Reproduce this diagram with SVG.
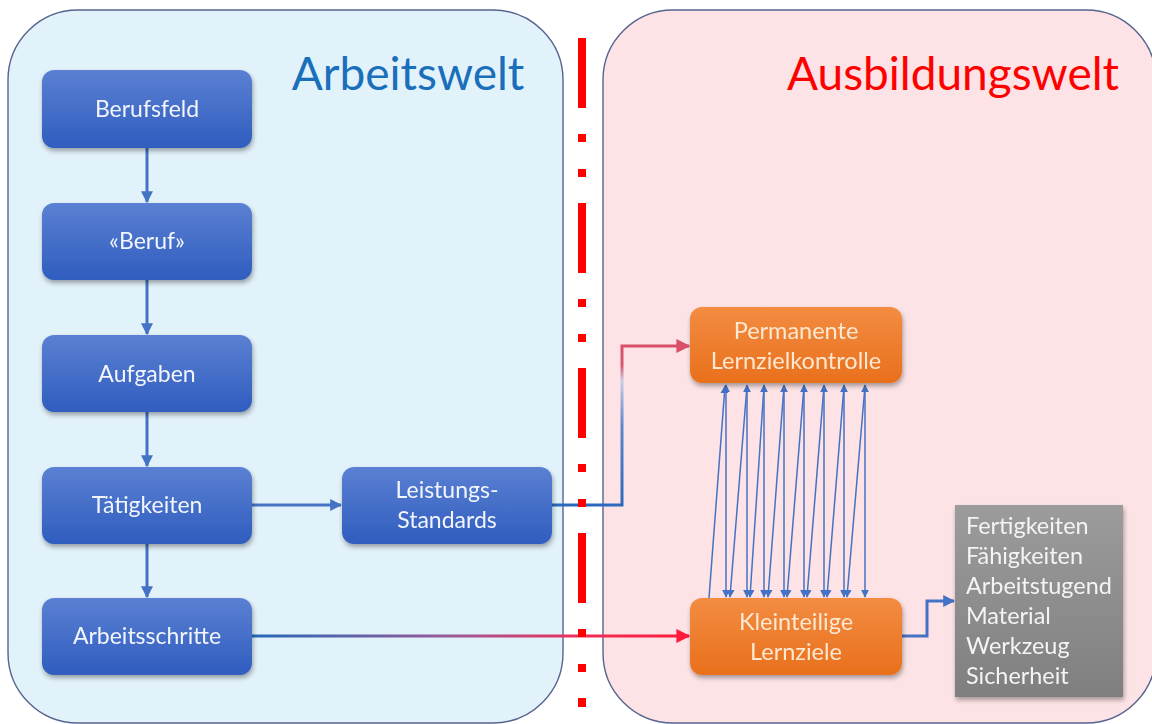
<svg xmlns="http://www.w3.org/2000/svg" width="1152" height="724" viewBox="0 0 1152 724">
<style>
.panel{stroke:#56648f;stroke-width:1.4}
.bt{font-family:Lato,"Open Sans","DejaVu Sans",sans-serif;font-size:23px;fill:#f2f5fc;text-anchor:middle}
.ot{font-family:Lato,"Open Sans","DejaVu Sans",sans-serif;font-size:23.5px;fill:#fde8d2;text-anchor:middle}
.gt{font-family:Lato,"Open Sans","DejaVu Sans",sans-serif;font-size:23.4px;fill:#f4f4f4}
.title{font-family:Lato,"Open Sans","DejaVu Sans",sans-serif;font-size:46px}
.conn{fill:none;stroke:#4472c4;stroke-width:3}
.thin{fill:none;stroke:#4472c4;stroke-width:1.5}
</style>
<defs>
<linearGradient id="gBlue" x1="0" y1="0" x2="0" y2="1"><stop offset="0" stop-color="#5b80d2"/><stop offset="1" stop-color="#2f5dbf"/></linearGradient>
<linearGradient id="gOrange" x1="0" y1="0" x2="0" y2="1"><stop offset="0" stop-color="#f38c42"/><stop offset="1" stop-color="#e9701c"/></linearGradient>
<linearGradient id="gGray" x1="0" y1="0" x2="0" y2="1"><stop offset="0" stop-color="#9c9c9c"/><stop offset="1" stop-color="#7f7f7f"/></linearGradient>
<linearGradient id="gLeist" gradientUnits="userSpaceOnUse" x1="0" y1="505" x2="0" y2="346"><stop offset="0" stop-color="#2a69bd"/><stop offset="0.5" stop-color="#5f86cc"/><stop offset="0.78" stop-color="#c9cde6"/><stop offset="0.88" stop-color="#d9566f"/><stop offset="1" stop-color="#d9506a"/></linearGradient>
<linearGradient id="gArb" gradientUnits="userSpaceOnUse" x1="252" y1="0" x2="690" y2="0"><stop offset="0" stop-color="#2468b8"/><stop offset="0.45" stop-color="#9a5a98"/><stop offset="0.75" stop-color="#ee2f58"/><stop offset="1" stop-color="#ff1a3a"/></linearGradient>
<marker id="aBlue" viewBox="0 0 10 10" refX="9" refY="5" markerWidth="12" markerHeight="12" markerUnits="userSpaceOnUse" orient="auto"><path d="M0,0 L10,5 L0,10 z" fill="#4472c4"/></marker>
<marker id="aSmall" viewBox="0 0 10 10" refX="9" refY="5" markerWidth="8" markerHeight="8" markerUnits="userSpaceOnUse" orient="auto-start-reverse"><path d="M0,0 L10,5 L0,10 z" fill="#4472c4"/></marker>
<marker id="aRed" viewBox="0 0 10 10" refX="9" refY="5" markerWidth="14" markerHeight="14" markerUnits="userSpaceOnUse" orient="auto"><path d="M0,0 L10,5 L0,10 z" fill="#ff1a3a"/></marker>
<marker id="aPink" viewBox="0 0 10 10" refX="9" refY="5" markerWidth="14" markerHeight="14" markerUnits="userSpaceOnUse" orient="auto"><path d="M0,0 L10,5 L0,10 z" fill="#d9506a"/></marker>
<filter id="sh" x="-10%" y="-10%" width="125%" height="135%"><feGaussianBlur in="SourceAlpha" stdDeviation="2.5"/><feOffset dx="1" dy="3" result="b"/><feComponentTransfer><feFuncA type="linear" slope="0.35"/></feComponentTransfer><feMerge><feMergeNode/><feMergeNode in="SourceGraphic"/></feMerge></filter>
</defs>
<rect width="1152" height="724" fill="#ffffff"/>
<g id="panel-arbeitswelt">
<rect class="panel" x="8" y="10" width="555" height="713" rx="70" fill="#e2f2fa"/>
<text class="title" x="408" y="90" fill="#1a6fba" text-anchor="middle">Arbeitswelt</text>
</g>
<g id="panel-ausbildungswelt">
<rect class="panel" x="603" y="10" width="553" height="713" rx="70" fill="#fde3e6"/>
<text class="title" x="953" y="90" fill="#ff0000" text-anchor="middle">Ausbildungswelt</text>
</g>
<g id="connectors">
<line class="conn" x1="147" y1="148" x2="147" y2="202" marker-end="url(#aBlue)"/>
<line class="conn" x1="147" y1="280" x2="147" y2="334" marker-end="url(#aBlue)"/>
<line class="conn" x1="147" y1="412" x2="147" y2="466" marker-end="url(#aBlue)"/>
<line class="conn" x1="147" y1="544" x2="147" y2="597" marker-end="url(#aBlue)"/>
<line class="conn" x1="252" y1="505" x2="341" y2="505" marker-end="url(#aBlue)"/>
<path d="M552,505 H622 V346 H689" fill="none" stroke="url(#gLeist)" stroke-width="3" marker-end="url(#aPink)"/>
<path d="M252,636 H689" fill="none" stroke="url(#gArb)" stroke-width="3" marker-end="url(#aRed)"/>
<path class="conn" d="M902,636 H927 V601 H954" stroke-width="3.5" marker-end="url(#aBlue)"/>
<g id="links">
<line class="thin" x1="726" y1="385" x2="726" y2="597" marker-start="url(#aSmall)" marker-end="url(#aSmall)"/>
<line class="thin" x1="747" y1="385" x2="747" y2="597" marker-start="url(#aSmall)" marker-end="url(#aSmall)"/>
<line class="thin" x1="764" y1="385" x2="764" y2="597" marker-start="url(#aSmall)" marker-end="url(#aSmall)"/>
<line class="thin" x1="784" y1="385" x2="784" y2="597" marker-start="url(#aSmall)" marker-end="url(#aSmall)"/>
<line class="thin" x1="804" y1="385" x2="804" y2="597" marker-start="url(#aSmall)" marker-end="url(#aSmall)"/>
<line class="thin" x1="824" y1="385" x2="824" y2="597" marker-start="url(#aSmall)" marker-end="url(#aSmall)"/>
<line class="thin" x1="844" y1="385" x2="844" y2="597" marker-start="url(#aSmall)" marker-end="url(#aSmall)"/>
<line class="thin" x1="865" y1="385" x2="865" y2="597" marker-start="url(#aSmall)" marker-end="url(#aSmall)"/>
<line class="thin" x1="709" y1="598" x2="725" y2="386" marker-end="url(#aSmall)"/>
<line class="thin" x1="747" y1="386" x2="730" y2="597" marker-end="url(#aSmall)"/>
<line class="thin" x1="764" y1="386" x2="750" y2="597" marker-end="url(#aSmall)"/>
<line class="thin" x1="784" y1="386" x2="768" y2="597" marker-end="url(#aSmall)"/>
<line class="thin" x1="804" y1="386" x2="787" y2="597" marker-end="url(#aSmall)"/>
<line class="thin" x1="824" y1="386" x2="807" y2="597" marker-end="url(#aSmall)"/>
<line class="thin" x1="844" y1="386" x2="827" y2="597" marker-end="url(#aSmall)"/>
<line class="thin" x1="865" y1="386" x2="847" y2="597" marker-end="url(#aSmall)"/>
</g>
</g>
<g id="n-berufsfeld" filter="url(#sh)"><rect x="42" y="70" width="210" height="78" rx="12" fill="url(#gBlue)"/><text class="bt" x="147" y="117">Berufsfeld</text></g>
<g id="n-beruf" filter="url(#sh)"><rect x="42" y="203" width="210" height="77" rx="12" fill="url(#gBlue)"/><text class="bt" x="147" y="249">«Beruf»</text></g>
<g id="n-aufgaben" filter="url(#sh)"><rect x="42" y="335" width="210" height="77" rx="12" fill="url(#gBlue)"/><text class="bt" x="147" y="382">Aufgaben</text></g>
<g id="n-taetigkeiten" filter="url(#sh)"><rect x="42" y="467" width="210" height="77" rx="12" fill="url(#gBlue)"/><text class="bt" x="147" y="513">Tätigkeiten</text></g>
<g id="n-arbeitsschritte" filter="url(#sh)"><rect x="42" y="598" width="210" height="77" rx="12" fill="url(#gBlue)"/><text class="bt" x="147" y="644">Arbeitsschritte</text></g>
<g id="n-leistungsstandards" filter="url(#sh)"><rect x="342" y="467" width="210" height="77" rx="12" fill="url(#gBlue)"/><text class="bt" x="447" y="498">Leistungs-</text><text class="bt" x="447" y="528">Standards</text></g>
<g id="n-permanente" filter="url(#sh)"><rect x="690" y="307" width="212" height="76" rx="12" fill="url(#gOrange)"/><text class="ot" x="796" y="339">Permanente</text><text class="ot" x="796" y="369">Lernzielkontrolle</text></g>
<g id="n-kleinteilige" filter="url(#sh)"><rect x="690" y="598" width="212" height="77" rx="12" fill="url(#gOrange)"/><text class="ot" x="796" y="630">Kleinteilige</text><text class="ot" x="796" y="660">Lernziele</text></g>
<g id="n-liste" filter="url(#sh)"><rect x="955" y="505" width="168" height="192" fill="url(#gGray)"/>
<text class="gt" x="966" y="534">Fertigkeiten</text>
<text class="gt" x="966" y="564">Fähigkeiten</text>
<text class="gt" x="966" y="594">Arbeitstugend</text>
<text class="gt" x="966" y="624">Material</text>
<text class="gt" x="966" y="654">Werkzeug</text>
<text class="gt" x="966" y="684">Sicherheit</text>
</g>
<g id="divider"><line x1="582" y1="38" x2="582" y2="707" stroke="#ff0000" stroke-width="8" stroke-dasharray="70 26 8 27 8 26"/></g>
</svg>
